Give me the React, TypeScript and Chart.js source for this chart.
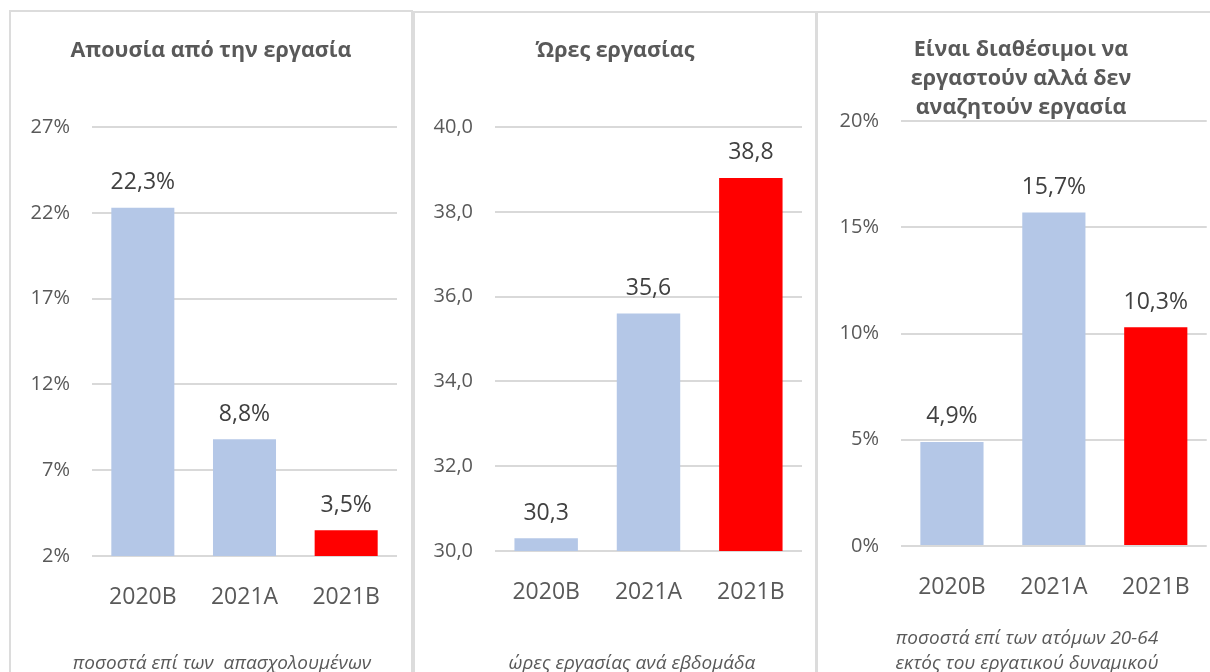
import React, { useEffect, useRef } from "react";
import { Chart, registerables } from "chart.js";

Chart.register(...registerables);

const CATEGORIES = ["2020B", "2021A", "2021B"];
const ABSENCE = [22.3, 8.8, 3.5];
const HOURS = [30.3, 35.6, 38.8];
const AVAILABLE = [4.9, 15.7, 10.3];
const BAR_COLORS = ["#B4C7E7", "#B4C7E7", "#FF0000"];

const TITLE_1 = ["Απουσία από την εργασία"];
const TITLE_2 = ["Ώρες εργασίας"];
const TITLE_3 = ["Είναι διαθέσιμοι να", "εργαστούν αλλά δεν", "αναζητούν εργασία"];
const FOOTER_1 = ["ποσοστά επί των  απασχολουμένων"];
const FOOTER_2 = ["ώρες εργασίας ανά εβδομάδα"];
const FOOTER_3 = ["ποσοστά επί των ατόμων 20-64", "εκτός του εργατικού δυναμικού"];

const FONT = "'Open Sans', 'Noto Sans', sans-serif";
const GREY = "#595959";
const DARK = "#404040";

const comma = (v: number, d: number) => v.toFixed(d).replace(".", ",");

type PanelSpec = {
  canvas: { x: number; y: number; w: number; h: number };
  area: { l: number; t: number; r: number; b: number };
  data: number[];
  min: number;
  max: number;
  step: number;
  tick: (v: number) => string;
  label: (v: number) => string;
  title: string[];
  titleX: number;
  titleY: number[];
  footer: string[];
  footerX: number;
  footerY: number[];
};

const PANELS: PanelSpec[] = [
  {
    canvas: { x: 11, y: 12, w: 400, h: 660 },
    area: { l: 92, t: 127, r: 397, b: 556 },
    data: ABSENCE,
    min: 2,
    max: 27,
    step: 5,
    tick: (v) => `${v}%`,
    label: (v) => `${comma(v, 1)}%`,
    title: TITLE_1,
    titleX: 211,
    titleY: [57],
    footer: FOOTER_1,
    footerX: 222,
    footerY: [669],
  },
  {
    canvas: { x: 415, y: 13, w: 400, h: 659 },
    area: { l: 495, t: 127, r: 802, b: 551 },
    data: HOURS,
    min: 30,
    max: 40,
    step: 2,
    tick: (v) => comma(v, 1),
    label: (v) => comma(v, 1),
    title: TITLE_2,
    titleX: 615,
    titleY: [57],
    footer: FOOTER_2,
    footerX: 632,
    footerY: [669],
  },
  {
    canvas: { x: 818, y: 13, w: 392, h: 659 },
    area: { l: 901, t: 121, r: 1207, b: 546 },
    data: AVAILABLE,
    min: 0,
    max: 20,
    step: 5,
    tick: (v) => `${v}%`,
    label: (v) => `${comma(v, 1)}%`,
    title: TITLE_3,
    titleX: 1021,
    titleY: [56, 85, 114],
    footer: FOOTER_3,
    footerX: 1027,
    footerY: [644, 669],
  },
];

const X_AXIS_H = 50;

function Panel({ spec }: { spec: PanelSpec }) {
  const ref = useRef<HTMLCanvasElement | null>(null);
  useEffect(() => {
    const c = spec.canvas;
    const a = spec.area;
    const textPlugin = {
      id: "texts",
      afterDraw(chart: any) {
        const ctx = chart.ctx as CanvasRenderingContext2D;
        ctx.save();
        ctx.textAlign = "center";
        ctx.textBaseline = "alphabetic";
        ctx.fillStyle = GREY;
        ctx.font = `bold 21.5px ${FONT}`;
        spec.title.forEach((t, i) => ctx.fillText(t, spec.titleX - c.x, spec.titleY[i] - c.y));
        ctx.font = `italic 19px ${FONT}`;
        spec.footer.forEach((t, i) => ctx.fillText(t, spec.footerX - c.x, spec.footerY[i] - c.y));
        const meta = chart.getDatasetMeta(0);
        ctx.fillStyle = DARK;
        ctx.font = `23px ${FONT}`;
        ctx.textBaseline = "middle";
        meta.data.forEach((bar: any, i: number) => {
          ctx.fillText(spec.label(spec.data[i]), bar.x, bar.y - 25);
        });
        ctx.restore();
      },
    };
    const chart = new Chart(ref.current as HTMLCanvasElement, {
      type: "bar",
      data: {
        labels: CATEGORIES,
        datasets: [
          {
            data: spec.data,
            backgroundColor: BAR_COLORS,
            borderWidth: 0,
            categoryPercentage: 1,
            barPercentage: 0.62,
          },
        ],
      },
      options: {
        responsive: false,
        animation: false,
        devicePixelRatio: 1,
        layout: {
          padding: {
            top: a.t - c.y,
            left: 0,
            right: c.x + c.w - a.r,
            bottom: c.y + c.h - a.b - X_AXIS_H,
          },
        },
        plugins: {
          legend: { display: false },
          title: { display: false },
          tooltip: { enabled: false },
        },
        scales: {
          x: {
            grid: { display: false },
            border: { display: false },
            ticks: {
              color: GREY,
              font: { family: FONT, size: 23 },
              padding: 20,
              maxRotation: 0,
            },
            afterFit: (s: any) => {
              s.height = X_AXIS_H;
            },
          },
          y: {
            min: spec.min,
            max: spec.max,
            grid: { color: "#d9d9d9", lineWidth: 2, drawTicks: false },
            border: { display: false },
            ticks: {
              stepSize: spec.step,
              color: GREY,
              font: { family: FONT, size: 20 },
              padding: 22,
              callback: (v: any) => spec.tick(Number(v)),
            },
            afterFit: (s: any) => {
              s.width = a.l - c.x;
            },
          },
        },
      } as any,
      plugins: [textPlugin],
    });
    return () => chart.destroy();
  }, [spec]);
  const c = spec.canvas;
  return (
    <canvas
      ref={ref}
      width={c.w}
      height={c.h}
      style={{ position: "absolute", left: c.x, top: c.y, width: c.w, height: c.h }}
    />
  );
}

const BORDERS = [
  { l: 9, t: 10, w: 404 },
  { l: 413, t: 11, w: 404 },
  { l: 816, t: 11, w: 420 },
];

export default function App() {
  return (
    <div
      style={{
        position: "fixed",
        left: 0,
        top: 0,
        width: 1210,
        height: 672,
        overflow: "hidden",
        background: "#ffffff",
      }}
    >
      {BORDERS.map((b, i) => (
        <div
          key={i}
          style={{
            position: "absolute",
            left: b.l,
            top: b.t,
            width: b.w,
            height: 700,
            boxSizing: "border-box",
            border: "2px solid #dcdcdc",
          }}
        />
      ))}
      {PANELS.map((p, i) => (
        <Panel key={i} spec={p} />
      ))}
    </div>
  );
}
